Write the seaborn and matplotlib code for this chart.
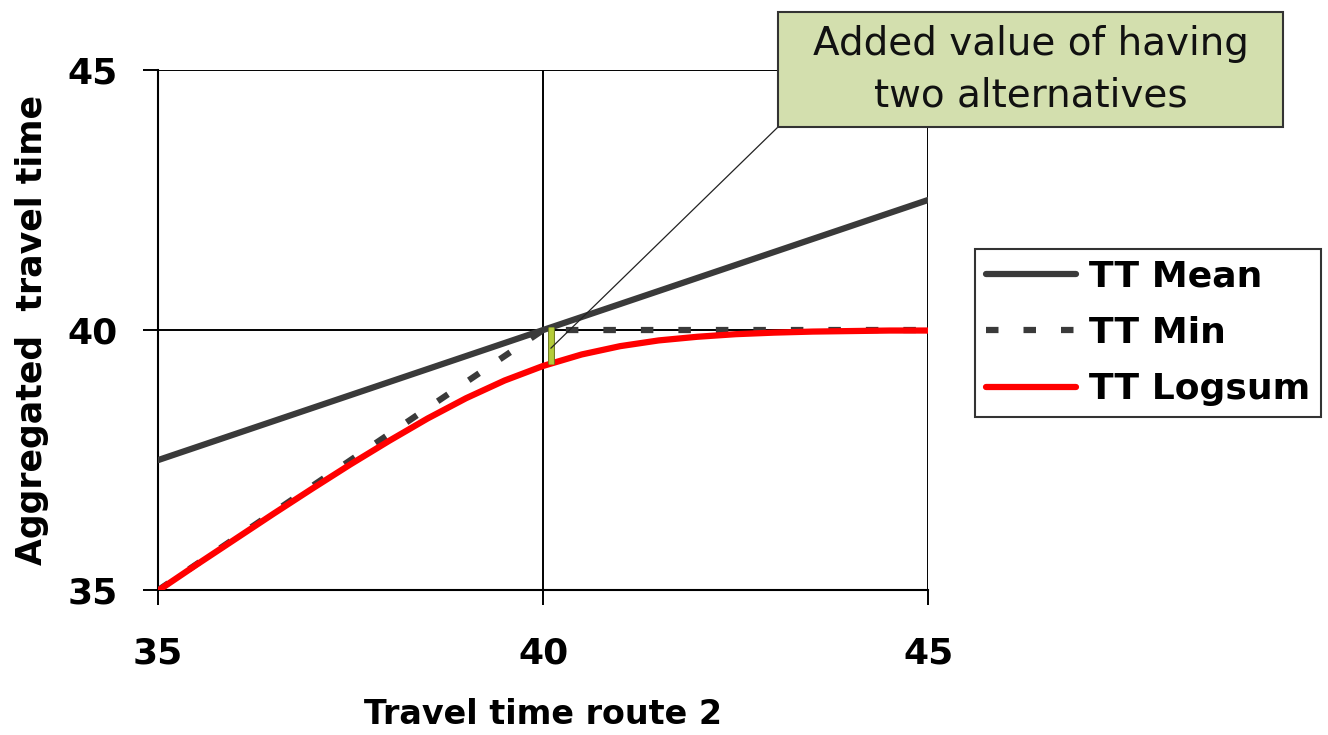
import numpy as np
import pandas as pd
import seaborn as sns
import matplotlib.pyplot as plt
import matplotlib.patheffects as pe
from matplotlib.patches import Rectangle

# travel time of route 2 (x) and the aggregated travel times
route2 = [35, 35.5, 36, 36.5, 37, 37.5, 38, 38.5, 39, 39.5, 40,
          40.5, 41, 41.5, 42, 42.5, 43, 43.5, 44, 44.5, 45]
tt_mean = [37.5, 37.75, 38, 38.25, 38.5, 38.75, 39, 39.25, 39.5, 39.75, 40,
           40.25, 40.5, 40.75, 41, 41.25, 41.5, 41.75, 42, 42.25, 42.5]
tt_min = [35, 35.5, 36, 36.5, 37, 37.5, 38, 38.5, 39, 39.5, 40,
          40, 40, 40, 40, 40, 40, 40, 40, 40, 40]
tt_logsum = [34.99, 35.49, 35.98, 36.47, 36.95, 37.42, 37.87, 38.30, 38.69, 39.03, 39.31,
             39.53, 39.69, 39.80, 39.87, 39.92, 39.95, 39.97, 39.98, 39.99, 39.99]

# gap between min and logsum highlighted just right of 40
gap_x = 40.1
gap_low = 39.35
gap_high = 40.05
note_y = 39.65

ticks = [35, 40, 45]
note_text = "Added value of having\ntwo alternatives"

data = pd.DataFrame({"route2": route2, "mean": tt_mean, "min": tt_min, "logsum": tt_logsum})

sns.set_style("white")
plt.rcParams['font.family'] = ['DejaVu Sans']
plt.rcParams['text.color'] = 'black'
plt.rcParams['axes.labelcolor'] = 'black'
plt.rcParams['xtick.color'] = 'black'
plt.rcParams['ytick.color'] = 'black'

W, H = 1328, 735
fig = plt.figure(figsize=(W / 100, H / 100), dpi=100)
ax = fig.add_axes([0.119, 0.197, 0.580, 0.708])

ax.grid(True, color="black", lw=1.4, zorder=0)
ax.set_axisbelow(True)

sns.lineplot(data=data, x="route2", y="mean", ax=ax, color="#3a3a3a", lw=4.5,
             label="TT Mean", zorder=3)
sns.lineplot(data=data, x="route2", y="min", ax=ax, color="#3a3a3a", lw=4.5,
             linestyle=(0, (2, 4)), label="TT Min", zorder=3)
sns.lineplot(data=data, x="route2", y="logsum", ax=ax, color="#ff0000", lw=4.5,
             label="TT Logsum", zorder=4)

ax.vlines(gap_x, gap_low, gap_high, color="#b4cc3a", lw=3.5, zorder=5,
          path_effects=[pe.Stroke(linewidth=5, foreground="#6f7d1e"), pe.Normal()])

ax.set_xlim(35, 45)
ax.set_ylim(35, 45)
ax.set_xticks(ticks)
ax.set_yticks(ticks)
ax.tick_params(axis="both", direction="out", length=11, width=1.4, color="black",
               labelsize=26, bottom=True, left=True)
ax.tick_params(axis="x", pad=22)
ax.tick_params(axis="y", pad=18)
for lab in ax.get_xticklabels() + ax.get_yticklabels():
    lab.set_fontweight("bold")

sns.despine(ax=ax)
for s in ["left", "bottom"]:
    ax.spines[s].set_color("black")
    ax.spines[s].set_linewidth(1.5)

ax.set_xlabel("Travel time route 2", fontsize=24, fontweight="bold", labelpad=20)
ax.set_ylabel("Aggregated  travel time", fontsize=25, fontweight="bold", labelpad=13)

# callout box (figure pixels -> fraction)
bx0, by0, bx1, by1 = 778, 12, 1283, 127
box = Rectangle((bx0 / W, 1 - by1 / H), (bx1 - bx0) / W, (by1 - by0) / H,
                transform=fig.transFigure, fc="#d3dfae", ec="#333333", lw=1.5,
                zorder=10)
fig.patches.append(box)
fig.text((bx0 + bx1) / 2 / W, 1 - (by0 + by1) / 2 / H, note_text, ha="center",
         va="center", fontsize=28, linespacing=1.45, color="#111111", zorder=11)
ax.annotate("", xy=(gap_x, note_y), xycoords="data",
            xytext=(bx0 / W, 1 - by1 / H), textcoords="figure fraction",
            arrowprops=dict(arrowstyle="-", color="#222222", lw=0.9,
                            shrinkA=0, shrinkB=0),
            zorder=6, annotation_clip=False)

leg = ax.legend(loc="center left", bbox_to_anchor=(0.734, 0.547),
                bbox_transform=fig.transFigure, frameon=True, fancybox=False,
                prop={"size": 26, "weight": "bold"}, handlelength=2.5,
                handletextpad=0.35, labelspacing=0.62, borderpad=0.3,
                borderaxespad=0)
leg.get_frame().set_edgecolor("black")
leg.get_frame().set_linewidth(1.5)

fig.savefig("out.png", dpi=100)
